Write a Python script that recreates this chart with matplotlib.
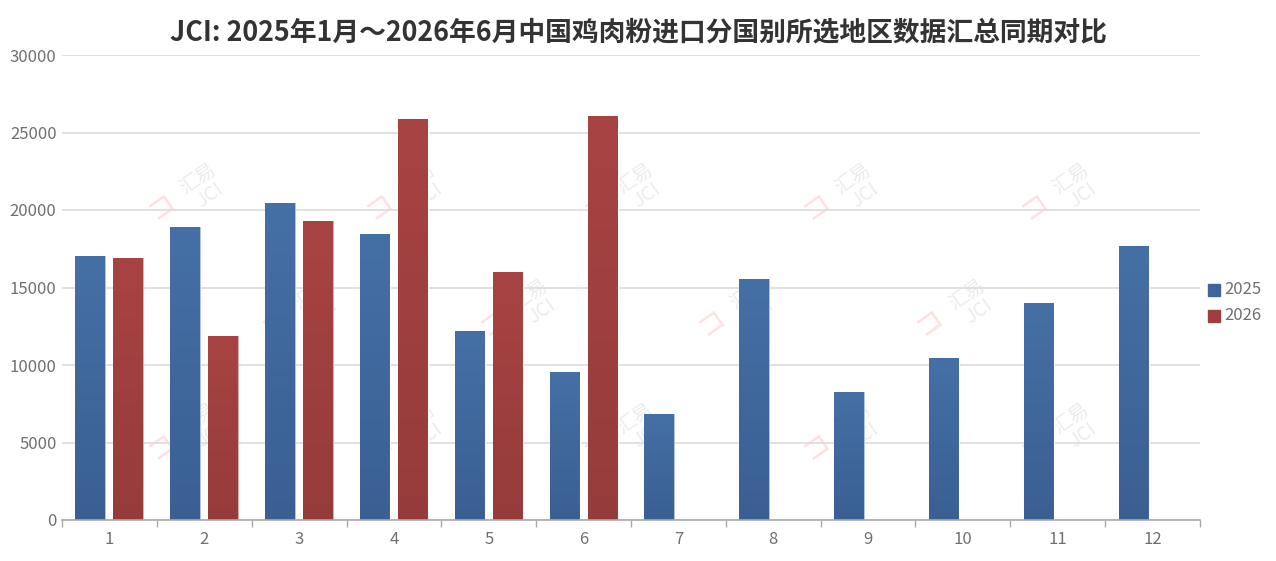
import matplotlib
matplotlib.use("Agg")
import matplotlib.pyplot as plt
import numpy as np
from matplotlib.colors import LinearSegmentedColormap

plt.rcParams['font.family'] = ['Noto Sans CJK SC', 'DejaVu Sans']

months = ['1', '2', '3', '4', '5', '6', '7', '8', '9', '10', '11', '12']
series_names = ['2025', '2026']
values_2025 = [17050, 18900, 20450, 18450, 12190, 9550, 6840, 15550, 8260, 10450, 14000, 17680]
values_2026 = [16900, 11870, 19290, 25870, 16000, 26060]
yticks = [0, 5000, 10000, 15000, 20000, 25000, 30000]
title = 'JCI: 2025年1月～2026年6月中国鸡肉粉进口分国别所选地区数据汇总同期对比'

fig = plt.figure(figsize=(12.76, 5.61), dpi=100)
ax = fig.add_axes([62/1276, 1-520/561, (1200-62)/1276, (520-55)/561])

ax.set_xlim(-0.5, len(months) - 0.5)
ax.set_ylim(0, 30000)

# watermarks
wm_pos = [(1.0, 21500), (3.3, 21500), (5.6, 21500), (7.9, 21500), (10.2, 21500),
          (2.2, 14000), (4.5, 14000), (6.8, 14000), (9.1, 14000),
          (1.0, 6000), (3.3, 6000), (5.6, 6000), (7.9, 6000), (10.2, 6000)]
for (wx, wy) in wm_pos:
    ax.text(wx, wy, '汇易\nJCI', rotation=35, ha='center', va='center',
            fontsize=14, color='#ececec', zorder=0.5, linespacing=1.0)
    ax.text(wx - 0.45, wy - 1200, '⊐', rotation=35, ha='center', va='center',
            fontsize=22, color='#fde0e0', zorder=0.5, family=['DejaVu Sans'])

ax.set_yticks(yticks)
ax.yaxis.grid(True, color='#dcdcdc', linewidth=1.2)
ax.set_axisbelow(True)

w = 0.316
off = 0.2
x = np.arange(len(months))
blue_cmap = LinearSegmentedColormap.from_list('b', ['#4570a6', '#3a5f93'])
red_cmap = LinearSegmentedColormap.from_list('r', ['#a84343', '#963b3b'])
grad = np.linspace(0, 1, 256).reshape(-1, 1)

def draw(xs, vals, cmap):
    bars = ax.bar(xs, vals, width=w, color='none', edgecolor='none', zorder=2)
    for b in bars:
        x0, y0 = b.get_x(), b.get_y()
        bw, bh = b.get_width(), b.get_height()
        im = ax.imshow(grad, cmap=cmap, aspect='auto', extent=[x0, x0 + bw, y0, y0 + bh],
                       origin='upper', zorder=2, interpolation='bilinear')
        im.set_clip_path(b)
        ax.plot([x0 + bw, x0 + bw], [0, bh], color='#ffffff', lw=1.6, zorder=1.9)
        ax.plot([x0 + bw * 0.985, x0 + bw * 0.985], [0, bh], color=cmap(0.0), lw=0.6, alpha=0.5, zorder=2.1)
    return bars

draw(x[:len(values_2025)] - off, values_2025, blue_cmap)
draw(x[:len(values_2026)] + off, values_2026, red_cmap)
ax.set_xlim(-0.5, len(months) - 0.5)
ax.set_ylim(0, 30000)

for s in ['top', 'right', 'left']:
    ax.spines[s].set_visible(False)
ax.spines['bottom'].set_color('#aaaaaa')
ax.spines['bottom'].set_linewidth(1.2)

ax.set_xticks(x)
ax.set_xticklabels(months)
ax.set_xticks(np.arange(-0.5, len(months)), minor=True)
ax.tick_params(axis='x', which='major', length=0, pad=8, labelsize=12, labelcolor='#707070')
ax.tick_params(axis='x', which='minor', length=5, color='#aaaaaa', width=1)
ax.tick_params(axis='y', length=0, pad=4, labelsize=12, labelcolor='#707070')
for lab in ax.get_xticklabels() + ax.get_yticklabels():
    lab.set_fontweight('light')

fig.text(0.5, 1 - 32/561, title, ha='center', va='center', fontsize=19.3,
         fontweight='bold', color='#333333')

# legend
for i, (name, col) in enumerate(zip(series_names, ['#3f659b', '#9e3e3e'])):
    yy = 1 - (290 + 26*i)/561
    fig.patches.append(plt.Rectangle((1208/1276, yy - 6/561), 12/1276, 12/561,
                                     transform=fig.transFigure, color=col, figure=fig))
    fig.text(1224/1276, yy, name, ha='left', va='center', fontsize=12,
             color='#707070', fontweight='light')

fig.savefig('out.png', dpi=100)
